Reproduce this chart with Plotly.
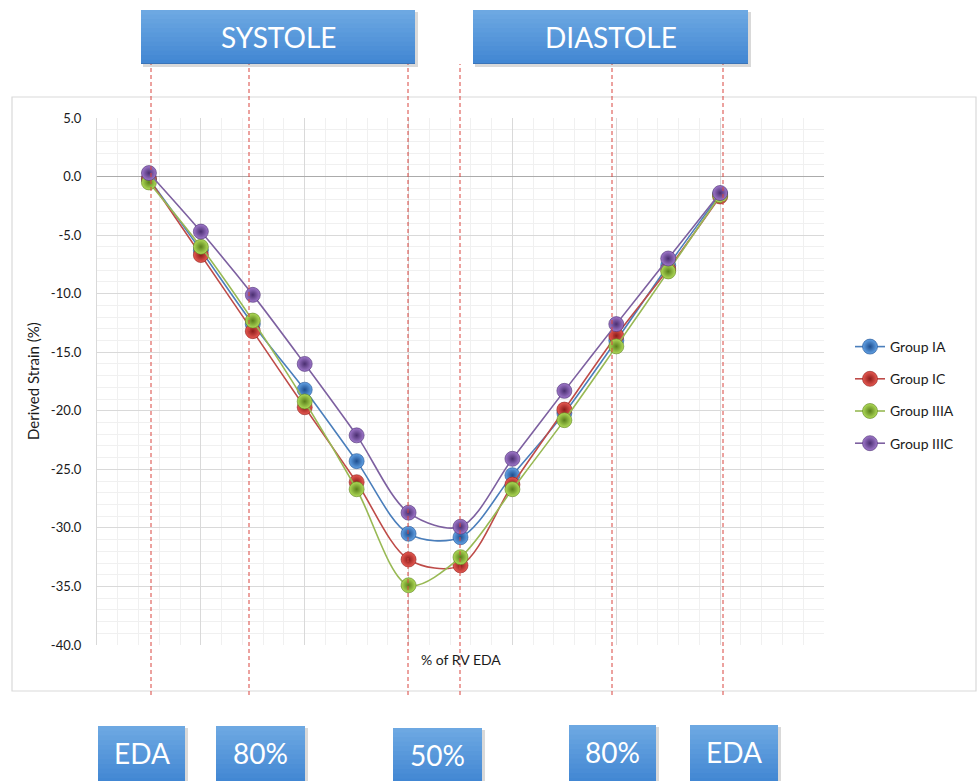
import plotly.graph_objects as go

# Sampling points across the cardiac cycle (EDA -> 50% -> EDA)
phase_index = [1, 2, 3, 4, 5, 6, 7, 8, 9, 10, 11, 12]

group_names = ["Group IA", "Group IC", "Group IIIA", "Group IIIC"]
strain_ia = [-0.2, -6.3, -12.6, -18.2, -24.3, -30.5, -30.8, -25.5, -20.2, -14.0, -7.6, -1.5]
strain_ic = [-0.2, -6.7, -13.2, -19.7, -26.1, -32.7, -33.2, -26.3, -19.9, -13.6, -7.9, -1.7]
strain_iiia = [-0.5, -6.0, -12.3, -19.2, -26.7, -34.9, -32.5, -26.7, -20.8, -14.5, -8.1, -1.6]
strain_iiic = [0.3, -4.7, -10.1, -16.0, -22.1, -28.7, -29.9, -24.1, -18.3, -12.6, -7.0, -1.4]

y_tick_values = [5, 0, -5, -10, -15, -20, -25, -30, -35, -40]
y_tick_labels = ["5.0", "0.0", "-5.0", "-10.0", "-15.0", "-20.0", "-25.0", "-30.0", "-35.0", "-40.0"]

phase_labels_top = ["SYSTOLE", "DIASTOLE"]
phase_labels_bottom = ["EDA", "80%", "50%", "80%", "EDA"]

series = [strain_ia, strain_ic, strain_iiia, strain_iiic]
line_colors = ["#4A7EBB", "#BE4B48", "#98B954", "#7D60A0"]
ball_colors = ["#62A2E6", "#E85A52", "#B0DC58", "#A078CC"]
ball_edges = ["#1F4F8F", "#8C1C1A", "#5A7F1C", "#4A2F70"]

W, H = 978, 781
L, R, T, B = 97, 824, 118, 645
PW, PH = R - L, B - T


def px(x):
    return (x - L) / PW


def py(y):
    return (B - y) / PH


fig = go.Figure()

for name, vals, lc, bc, be in zip(group_names, series, line_colors, ball_colors, ball_edges):
    fig.add_trace(go.Scatter(
        x=phase_index, y=vals, name=name, legendgroup=name,
        mode="lines+markers",
        line=dict(color=lc, width=1.6, shape="spline", smoothing=0.9),
        marker=dict(size=15, color=bc,
                    gradient=dict(type="radial", color=be),
                    line=dict(color=be, width=0.6)),
    ))

shapes = []

# outer chart frame
shapes.append(dict(type="rect", xref="paper", yref="paper",
                   x0=px(12), x1=px(976), y0=py(691), y1=py(97),
                   line=dict(color="#D9D9D9", width=1.2), fillcolor="rgba(0,0,0,0)",
                   layer="below"))


def blend(c1, c2, t):
    a = [int(c1[i:i + 2], 16) for i in (1, 3, 5)]
    b = [int(c2[i:i + 2], 16) for i in (1, 3, 5)]
    return "#%02X%02X%02X" % tuple(round(a[k] + (b[k] - a[k]) * t) for k in range(3))


def gradient_box(x0, x1, y0, y1, steps=12):
    # soft drop shadow
    shapes.append(dict(type="rect", xref="paper", yref="paper",
                       x0=px(x0 + 2), x1=px(x1 + 3), y0=py(y1 + 3), y1=py(y0 + 2),
                       line=dict(width=0), fillcolor="rgba(80,80,80,0.22)", layer="above"))
    top, bottom = "#6DA8E2", "#4287D3"
    # each band reaches to the box bottom so no seams show between bands
    for i in range(steps):
        ya = y0 + (y1 - y0) * i / steps
        shapes.append(dict(type="rect", xref="paper", yref="paper",
                           x0=px(x0), x1=px(x1), y0=py(y1), y1=py(ya),
                           line=dict(width=0), fillcolor=blend(top, bottom, i / (steps - 1)),
                           layer="above"))
    shapes.append(dict(type="line", xref="paper", yref="paper",
                       x0=px(x0), x1=px(x1), y0=py(y1 - 0.5), y1=py(y1 - 0.5),
                       line=dict(color="#3A74B8", width=1.2), layer="above"))


# dashed phase markers
for xl in [151, 249, 408, 460, 612, 723]:
    shapes.append(dict(type="line", xref="paper", yref="paper",
                       x0=px(xl), x1=px(xl), y0=py(695), y1=py(64),
                       line=dict(color="#D9453F", width=1.0, dash="4px,3px"),
                       layer="above"))

annotations = []

top_boxes = [(141, 415), (473, 748)]
for (x0, x1), lab in zip(top_boxes, phase_labels_top):
    gradient_box(x0, x1, 10, 64)
    annotations.append(dict(xref="paper", yref="paper", x=px((x0 + x1) / 2), y=py(37),
                            text=lab, showarrow=False,
                            font=dict(family="Lato", size=28, color="white"),
                            xanchor="center", yanchor="middle"))

bottom_boxes = [(98, 185, 726), (216, 305, 726), (393, 482, 728), (569, 656, 725), (690, 778, 725)]
for (x0, x1, y0), lab in zip(bottom_boxes, phase_labels_bottom):
    gradient_box(x0, x1, y0, 783)
    annotations.append(dict(xref="paper", yref="paper", x=px((x0 + x1) / 2), y=py(y0 + 27),
                            text=lab, showarrow=False,
                            font=dict(family="Lato", size=28, color="white"),
                            xanchor="center", yanchor="middle"))

# axis titles
annotations.append(dict(xref="paper", yref="paper", x=px(33), y=py(381),
                        text="Derived Strain (%)", textangle=-90, showarrow=False,
                        font=dict(family="Lato", size=15, color="#1A1A1A"),
                        xanchor="center", yanchor="middle"))
annotations.append(dict(xref="paper", yref="paper", x=px(461), y=py(659),
                        text="% of RV EDA", showarrow=False,
                        font=dict(family="Lato", size=14, color="#1A1A1A"),
                        xanchor="center", yanchor="middle"))

fig.update_layout(
    width=W, height=H,
    margin=dict(l=L, r=W - R, t=T, b=H - B),
    paper_bgcolor="white", plot_bgcolor="white",
    shapes=shapes, annotations=annotations,
    font=dict(family="Lato", color="#222222"),
    legend=dict(x=px(850), y=py(395), xanchor="left", yanchor="middle",
                font=dict(family="Lato", size=14, color="#1A1A1A"),
                tracegroupgap=11, traceorder="grouped",
                bgcolor="rgba(0,0,0,0)", itemwidth=30),
    xaxis=dict(range=[0, 14], showticklabels=False, ticks="",
               tick0=0, dtick=2, showgrid=True, gridcolor="#D9D9D9", gridwidth=1,
               minor=dict(dtick=0.4, showgrid=True, gridcolor="#F0F0F0", gridwidth=1),
               zeroline=False, showline=False, fixedrange=True),
    yaxis=dict(range=[-40, 5], tickvals=y_tick_values, ticktext=y_tick_labels,
               showgrid=True, gridcolor="#D9D9D9", gridwidth=1,
               minor=dict(dtick=1, showgrid=True, gridcolor="#F0F0F0", gridwidth=1),
               zeroline=True, zerolinecolor="#ABABAB", zerolinewidth=1.2,
               showline=True, linecolor="#D9D9D9", linewidth=1,
               ticks="", ticklabelstandoff=12,
               tickfont=dict(family="Lato", size=13, color="#1A1A1A"),
               fixedrange=True),
)

fig.write_html("out.html")
